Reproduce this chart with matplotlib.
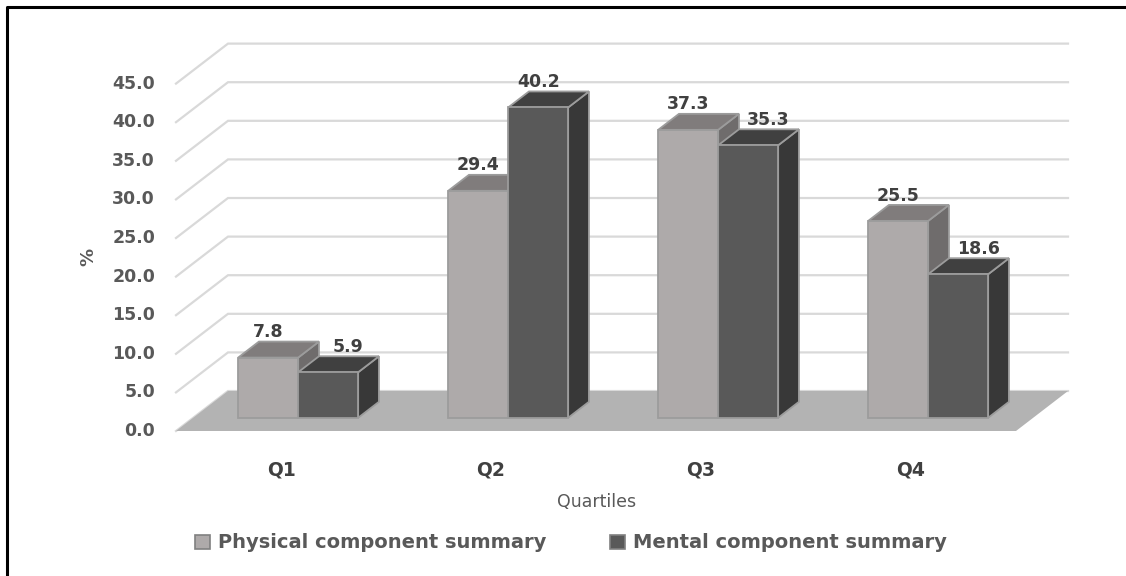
import matplotlib
matplotlib.use("Agg")
import matplotlib.pyplot as plt
from matplotlib.patches import Polygon, Patch
from matplotlib.lines import Line2D

plt.rcParams['font.family'] = ['DejaVu Sans']

# data
quartiles = ["Q1", "Q2", "Q3", "Q4"]
physical = [7.8, 29.4, 37.3, 25.5]
mental = [5.9, 40.2, 35.3, 18.6]
yticks = [0, 5, 10, 15, 20, 25, 30, 35, 40, 45]

# fake 3d geometry (category units / percent units)
DX = 0.2476      # full depth shift in x
DY = 5.18        # full depth shift in y
D0, D1 = 0.33, 0.73   # bar front / back depth
W = 0.2857       # bar width

c_phys = dict(front="#aeaaaa", top="#807c7c", side="#6f6c6c")
c_ment = dict(front="#595959", top="#404040", side="#383838")
edge = "#9c9c9c"
txt = "#404040"
tick_col = "#595959"


def P(x, v, d):
    return (x + d * DX, v + d * DY)


fig = plt.figure(figsize=(11.26, 5.76), dpi=100)
ax = fig.add_axes([0, 0, 1, 1])
ax.set_xlim(-281 / 210, (1126 - 281) / 210)
ax.set_ylim((431 - 576) / 7.72, 431 / 7.72)
ax.axis("off")

x_lo, x_hi = -0.5, len(quartiles) - 0.5

# gridlines: left wall diagonals + back wall
for v in yticks:
    ax.plot(*zip(P(x_lo, v, 0), P(x_lo, v, 1), P(x_hi, v, 1)),
            color="#d9d9d9", lw=1.6, zorder=1, solid_joinstyle="miter")
    ax.text(-0.6, v, f"{v:.1f}", ha="right", va="center", fontsize=12.5,
            fontweight="bold", color=tick_col)

# floor
ax.add_patch(Polygon([P(x_lo, 0, 0), P(x_hi, 0, 0), P(x_hi, 0, 1), P(x_lo, 0, 1)],
                     closed=True, fc="#b3b3b3", ec="none", zorder=2))


def box(xl, xr, v, cols, z):
    front = [P(xl, 0, D0), P(xr, 0, D0), P(xr, v, D0), P(xl, v, D0)]
    top = [P(xl, v, D0), P(xr, v, D0), P(xr, v, D1), P(xl, v, D1)]
    side = [P(xr, 0, D0), P(xr, v, D0), P(xr, v, D1), P(xr, 0, D1)]
    for pts, k in ((side, "side"), (top, "top"), (front, "front")):
        ax.add_patch(Polygon(pts, closed=True, fc=cols[k], ec=edge, lw=1.3,
                             joinstyle="miter", zorder=z))


z = 3
for i, (p, m) in enumerate(zip(physical, mental)):
    box(i - W, i, p, c_phys, z)
    box(i, i + W, m, c_ment, z + 1)
    z += 2
    # labels
    lx_p = i - W / 2 + D0 * DX
    lx_m = i + W / 2 + D0 * DX
    if p > m:
        lx_m += 0.095
    ax.text(lx_p, p + 5.0, f"{p:.1f}", ha="center", va="center", fontsize=12.5,
            fontweight="bold", color=txt, zorder=20)
    ax.text(lx_m, m + 5.0, f"{m:.1f}", ha="center", va="center", fontsize=12.5,
            fontweight="bold", color=txt, zorder=20)
    ax.text(i, (431 - 470) / 7.72, quartiles[i], ha="center", va="center",
            fontsize=13.5, fontweight="bold", color=txt)

fig.text(88 / 1126, 1 - 257 / 576, "%", rotation=90, ha="center", va="center",
         fontsize=13, fontweight="bold", color=tick_col)
fig.text(597 / 1126, 1 - 502 / 576, "Quartiles", ha="center", va="center",
         fontsize=12.5, color=tick_col)

handles = [Patch(fc=c_phys["front"], ec="#808080", lw=1.2),
           Patch(fc=c_ment["front"], ec="#808080", lw=1.2)]
fig.legend(handles, ["Physical component summary", "Mental component summary"],
           loc="center", bbox_to_anchor=(571 / 1126, 1 - 543 / 576), ncol=2,
           frameon=False, handlelength=0.75, handleheight=0.75, handletextpad=0.4,
           columnspacing=3.3, prop=dict(size=14, weight="bold"),
           labelcolor=tick_col)

# frame (left and top edges visible)
fig.add_artist(Line2D([7 / 1126, 7 / 1126, 1], [0, 1 - 7 / 576, 1 - 7 / 576],
                      transform=fig.transFigure, color="black", lw=2.2))

fig.savefig("out.png", dpi=100)
